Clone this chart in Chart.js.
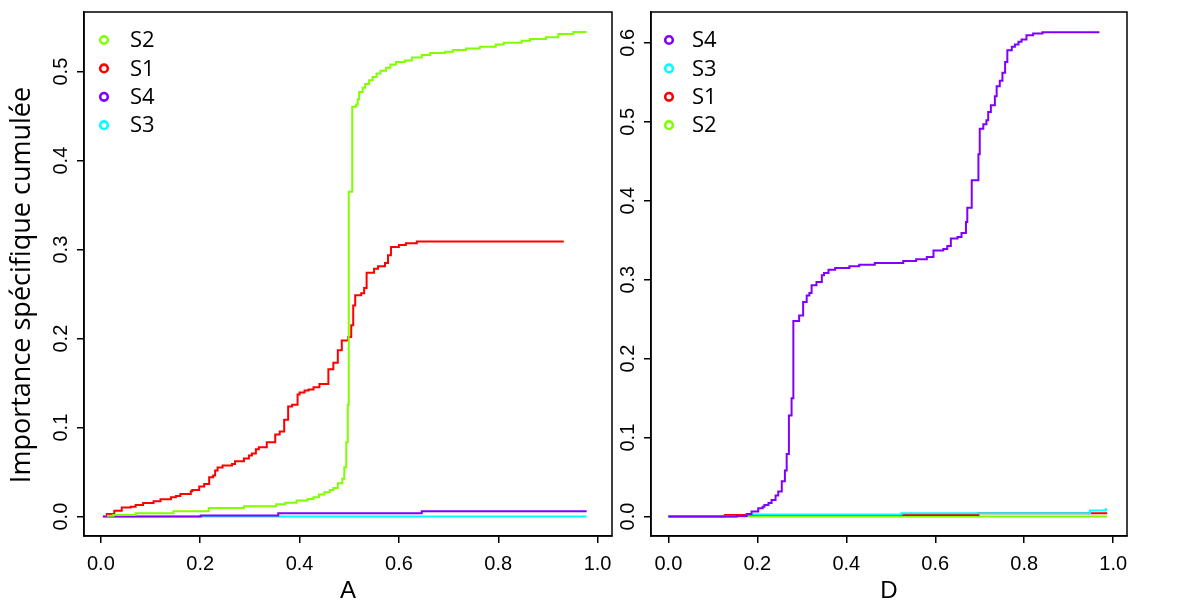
<!DOCTYPE html>
<html lang="fr">
<head>
<meta charset="UTF-8">
<title>Importance spécifique cumulée</title>
<script src="https://cdn.jsdelivr.net/npm/chart.js"></script>
<style>
  html, body { margin: 0; padding: 0; background: #fff; }
  #wrap { position: relative; width: 1193px; height: 602px; }
  .panel { position: absolute; top: 0; height: 602px; }
</style>
</head>
<body>
<div id="wrap">
  <div class="panel" style="left:0;width:613px"><canvas id="chartA"></canvas></div>
  <div class="panel" style="left:613px;width:580px"><canvas id="chartD"></canvas></div>
</div>
<script>
// colours as rainbow(4)
const colS1 = '#FF0000', colS2 = '#80FF00', colS3 = '#00FFFF', colS4 = '#8000FF';

// ---- panel A ----
const aS2x = [0.012, 0.025, 0.070, 0.146, 0.217, 0.288, 0.353, 0.371, 0.394, 0.416, 0.428, 0.439, 0.450, 0.461, 0.468, 0.477, 0.486, 0.490, 0.494, 0.497, 0.499, 0.506, 0.514, 0.517, 0.520, 0.527, 0.532, 0.540, 0.547, 0.555, 0.563, 0.574, 0.583, 0.594, 0.612, 0.626, 0.646, 0.663, 0.693, 0.709, 0.735, 0.763, 0.795, 0.811, 0.847, 0.864, 0.896, 0.921, 0.951, 0.978];
const aS2y = [0.001, 0.0019, 0.0037, 0.006, 0.0097, 0.0116, 0.0139, 0.0157, 0.018, 0.0199, 0.0217, 0.0247, 0.0273, 0.030, 0.0322, 0.0375, 0.0424, 0.0555, 0.0836, 0.1256, 0.365, 0.4604, 0.463, 0.469, 0.477, 0.4818, 0.486, 0.4904, 0.494, 0.498, 0.501, 0.5043, 0.508, 0.5107, 0.5126, 0.516, 0.5186, 0.5208, 0.5223, 0.5242, 0.526, 0.528, 0.5306, 0.5324, 0.5347, 0.5366, 0.5385, 0.5422, 0.5444, 0.5444];

const aS1x = [0.012, 0.012, 0.027, 0.042, 0.060, 0.070, 0.085, 0.106, 0.120, 0.141, 0.151, 0.160, 0.181, 0.184, 0.198, 0.208, 0.218, 0.226, 0.230, 0.235, 0.245, 0.264, 0.270, 0.288, 0.298, 0.304, 0.312, 0.318, 0.334, 0.351, 0.360, 0.369, 0.377, 0.385, 0.396, 0.400, 0.410, 0.418, 0.428, 0.440, 0.458, 0.468, 0.477, 0.485, 0.498, 0.504, 0.508, 0.512, 0.524, 0.530, 0.535, 0.550, 0.558, 0.572, 0.578, 0.584, 0.600, 0.614, 0.636, 0.932];
const aS1y = [0, 0.003, 0.0067, 0.0101, 0.0112, 0.0131, 0.0154, 0.0172, 0.0195, 0.0217, 0.0232, 0.0255, 0.0285, 0.030, 0.0337, 0.0367, 0.0442, 0.0462, 0.0517, 0.0551, 0.0574, 0.0592, 0.0622, 0.0652, 0.0686, 0.0709, 0.0757, 0.078, 0.0836, 0.0922, 0.0956, 0.1088, 0.1237, 0.1256, 0.1372, 0.1395, 0.1417, 0.1429, 0.1454, 0.149, 0.1657, 0.173, 0.187, 0.198, 0.2017, 0.2149, 0.2373, 0.2486, 0.251, 0.257, 0.274, 0.2786, 0.2812, 0.285, 0.2936, 0.303, 0.3052, 0.3071, 0.309, 0.309];

const aS4x = [0.004, 0.201, 0.357, 0.646, 0.978];
const aS4y = [0, 0.0011, 0.0037, 0.006, 0.006];

const aS3x = [0.004, 0.978];
const aS3y = [0, 0];

// ---- panel D ----
const dS4x = [0, 0.154, 0.176, 0.187, 0.202, 0.212, 0.216, 0.225, 0.232, 0.241, 0.247, 0.255, 0.262, 0.266, 0.271, 0.277, 0.281, 0.294, 0.303, 0.311, 0.317, 0.322, 0.333, 0.345, 0.350, 0.360, 0.375, 0.407, 0.429, 0.464, 0.528, 0.557, 0.581, 0.596, 0.618, 0.627, 0.635, 0.650, 0.659, 0.669, 0.672, 0.682, 0.697, 0.700, 0.708, 0.715, 0.719, 0.725, 0.734, 0.738, 0.745, 0.751, 0.757, 0.762, 0.772, 0.779, 0.787, 0.794, 0.805, 0.820, 0.841, 0.969];
const dS4y = [0, 0.0008, 0.0034, 0.0063, 0.0106, 0.0123, 0.0148, 0.0173, 0.0211, 0.0266, 0.0317, 0.0448, 0.0583, 0.0794, 0.128, 0.150, 0.2476, 0.2548, 0.2717, 0.280, 0.283, 0.2928, 0.297, 0.3055, 0.3085, 0.3126, 0.3147, 0.3169, 0.319, 0.321, 0.3236, 0.326, 0.3287, 0.337, 0.3388, 0.3426, 0.352, 0.354, 0.359, 0.373, 0.391, 0.4259, 0.4588, 0.4913, 0.4968, 0.5019, 0.5125, 0.521, 0.5323, 0.545, 0.5518, 0.562, 0.5758, 0.5906, 0.5949, 0.5978, 0.6012, 0.6042, 0.6096, 0.6117, 0.6134, 0.6134];

const dS3x = [0, 0.154, 0.176, 0.524, 0.948, 0.9835, 0.9865];
const dS3y = [0, 0.0008, 0.0025, 0.0042, 0.0076, 0.0093, 0.0093];

const dS1x = [0, 0.127, 0.697, 0.9865];
const dS1y = [0, 0.0021, 0.0042, 0.0042];

const dS2x = [0, 0.9865];
const dS2y = [0, 0];

const xTicks = [0, 0.2, 0.4, 0.6, 0.8, 1.0];

const tickFont = '"Liberation Sans", Arial, sans-serif';
const textFont = '"Open Sans", "Noto Sans", sans-serif';

const pts = (xs, ys) => xs.map((x, i) => ({ x: x, y: ys[i] }));

function series(label, xs, ys, color) {
    return {
        label: label,
        data: pts(xs, ys),
        borderColor: color,
        backgroundColor: color,
        borderWidth: 2,
        pointRadius: 0,
        stepped: true,
        fill: false
    };
}

// box, rotated y labels, y title and legend drawn like base R
const rFrame = {
    id: 'rFrame',
    afterDraw(chart, args, opts) {
        const ctx = chart.ctx;
        const a = chart.chartArea;
        const ys = chart.scales.y;
        ctx.save();
        ctx.strokeStyle = '#000';
        ctx.lineWidth = 1.5;
        ctx.strokeRect(a.left, a.top, a.right - a.left, a.bottom - a.top);

        ctx.fillStyle = '#000';
        ctx.font = '20px ' + tickFont;
        ctx.textAlign = 'center';
        ctx.textBaseline = 'middle';
        ys.ticks.forEach(t => {
            ctx.save();
            ctx.translate(a.left - 23, ys.getPixelForValue(t.value));
            ctx.rotate(-Math.PI / 2);
            ctx.fillText(t.value.toFixed(1), 0, 0);
            ctx.restore();
        });

        if (opts.yTitle) {
            ctx.save();
            ctx.font = '27px ' + textFont;
            ctx.translate(a.left - 62, (a.top + a.bottom) / 2 + 11);
            ctx.rotate(-Math.PI / 2);
            ctx.fillText(opts.yTitle, 0, 0);
            ctx.restore();
        }

        ctx.font = '22px ' + textFont;
        ctx.textAlign = 'left';
        chart.data.datasets.forEach((ds, i) => {
            const y = a.top + 28 + i * 28.4;
            ctx.beginPath();
            ctx.arc(a.left + opts.circleX, y, 3.8, 0, Math.PI * 2);
            ctx.strokeStyle = ds.borderColor;
            ctx.lineWidth = 2.6;
            ctx.stroke();
            ctx.fillStyle = '#000';
            ctx.fillText(ds.label, a.left + opts.textX, y + 1);
        });
        ctx.restore();
    }
};

function makeChart(id, datasets, xTitle, xMin, xMax, yMin, yMax, yWidth, padRight, frameOpts) {
    return new Chart(document.getElementById(id), {
        type: 'line',
        data: { datasets: datasets },
        options: {
            responsive: true,
            maintainAspectRatio: false,
            animation: false,
            layout: { padding: { top: 12, right: padRight, bottom: 0, left: 0 } },
            plugins: {
                legend: { display: false },
                tooltip: { enabled: false },
                rFrame: frameOpts
            },
            scales: {
                x: {
                    type: 'linear',
                    min: xMin,
                    max: xMax,
                    afterBuildTicks: s => { s.ticks = xTicks.map(v => ({ value: v })); },
                    ticks: {
                        callback: v => v.toFixed(1),
                        font: { family: tickFont, size: 20 },
                        color: '#000',
                        padding: 9,
                        maxRotation: 0,
                        autoSkip: false
                    },
                    grid: { drawOnChartArea: false, color: '#000', lineWidth: 1.5, tickLength: 7 },
                    border: { display: true, color: '#000', width: 1.5 },
                    title: {
                        display: true,
                        text: xTitle,
                        color: '#000',
                        font: { family: tickFont, size: 24, lineHeight: 0.875 },
                        padding: 0
                    },
                    afterFit: s => { s.height = 66; s.paddingLeft = 0; s.paddingRight = 0; }
                },
                y: {
                    min: yMin,
                    max: yMax,
                    ticks: { stepSize: 0.1, includeBounds: false, display: false },
                    grid: { drawOnChartArea: false, color: '#000', lineWidth: 1.5, tickLength: 7 },
                    border: { display: true, color: '#000', width: 1.5 },
                    afterFit: s => { s.width = yWidth; s.paddingTop = 0; s.paddingBottom = 0; }
                }
            }
        },
        plugins: [rFrame]
    });
}

makeChart('chartA', [
    series('S2', aS2x, aS2y, colS2),
    series('S1', aS1x, aS1y, colS1),
    series('S4', aS4x, aS4y, colS4),
    series('S3', aS3x, aS3y, colS3)
], 'A', -0.034, 1.029, -0.0218, 0.567, 84, 1, { yTitle: 'Importance spécifique cumulée', circleX: 20, textX: 46 });

makeChart('chartD', [
    series('S4', dS4x, dS4y, colS4),
    series('S3', dS3x, dS3y, colS3),
    series('S1', dS1x, dS1y, colS1),
    series('S2', dS2x, dS2y, colS2)
], 'D', -0.039, 1.031, -0.0246, 0.639, 38, 66, { yTitle: '', circleX: 18, textX: 41 });
</script>
</body>
</html>
